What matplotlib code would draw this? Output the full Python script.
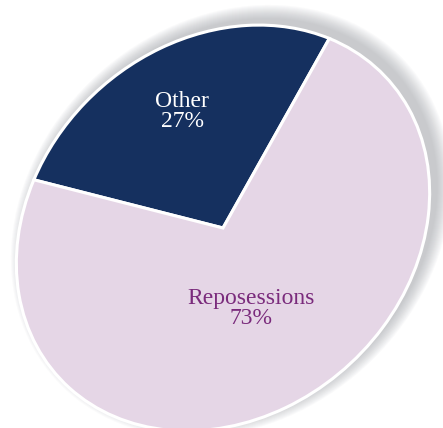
import numpy as np
import matplotlib.pyplot as plt
from matplotlib.transforms import Affine2D
from matplotlib.patches import Circle

# data
categories = ['Other', 'Reposessions']
shares = [27, 73]
colors = ['#15305f', '#e5d6e6']
text_colors = ['white', '#7a2b7c']
label_radius = [0.65, 0.45]

fig = plt.figure(figsize=(4.43, 4.28), dpi=100)
ax = fig.add_axes([0, 0, 1, 1])

# tilted ellipse look: map the unit pie through an affine transform
a, b, ang = 222, 186, np.deg2rad(42)
rot = np.array([[np.cos(ang), -np.sin(ang)], [np.sin(ang), np.cos(ang)]])
S = rot @ np.diag([a, b]) @ rot.T
mtx = np.eye(3)
mtx[:2, :2] = S
mtx[:2, 2] = (223, 200)
trans = Affine2D(mtx) + ax.transData

# soft drop shadow up and to the right
for i in range(14):
    sh = Circle((0, 0), 1 + 0.005 * i, color='#8d9097', alpha=0.04, lw=0,
                transform=Affine2D(mtx).translate(8, 7) + ax.transData)
    ax.add_patch(sh)

wedges, _ = ax.pie(shares, colors=colors, startangle=64, counterclock=True,
                   wedgeprops=dict(edgecolor='white', linewidth=2.2))
for w in wedges:
    w.set_transform(trans)

for w, name, v, tc, r in zip(wedges, categories, shares, text_colors, label_radius):
    mid = np.deg2rad((w.theta1 + w.theta2) / 2)
    ax.text(r * np.cos(mid), r * np.sin(mid), f'{name}\n{v}%', transform=trans,
            ha='center', va='center', color=tc, fontsize=17,
            family='Liberation Serif', linespacing=0.95)

ax.set_aspect('auto')
ax.set_xlim(0, 443)
ax.set_ylim(0, 428)
ax.axis('off')

fig.savefig('out.png', dpi=100)
